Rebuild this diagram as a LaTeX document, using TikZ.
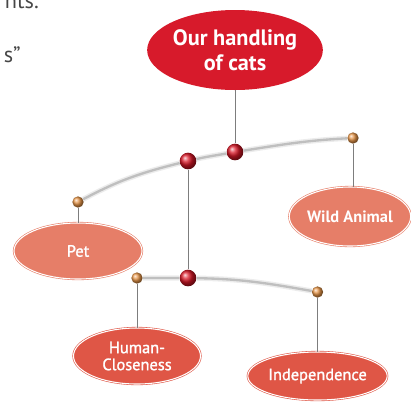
\documentclass[tikz,border=0pt]{standalone}
\usepackage{fontspec}
\setmainfont{PT Sans}
\newfontfamily\leaffont{PT Sans}[FakeBold=1.4]
\usetikzlibrary{shapes.geometric}
\definecolor{catred}{RGB}{215,26,43}
\definecolor{salmon}{RGB}{230,126,104}
\definecolor{brick}{RGB}{223,86,70}
\definecolor{tipcol}{RGB}{232,150,72}
\definecolor{stem}{RGB}{125,125,125}
\definecolor{textgray}{RGB}{70,70,70}

\begin{document}
\begin{tikzpicture}[x=0.3mm,y=0.3mm,
	topic/.style={ellipse,fill=catred,text=white,inner sep=0pt,align=center,font=\bfseries\fontsize{19}{21.5}\selectfont},
	leaf/.style={ellipse,draw=#1,fill=#1,double=white,double distance=0.9pt,line width=0.5pt,text=white,inner sep=0pt,align=center,font=\leaffont\fontsize{14}{14.5}\selectfont},
	hub/.style={circle,inner sep=0pt,minimum size=5mm,shading=ball,ball color=catred!90!red},
	tip/.style={circle,inner sep=0pt,minimum size=3.4mm,shading=ball,ball color=tipcol},
	stalk/.style={draw=stem,line width=0.6pt},
	branch/.style={draw=gray!50,line width=2pt,preaction={draw=gray!15,line width=4.5pt}}]
	\useasboundingbox (0,0) rectangle (411,-401);
	%Text from the page
	\node[anchor=base east,inner sep=0pt,text=textgray,font=\fontsize{19}{22}\selectfont] (frag1) at (39,-8) {nts.};
	\node[anchor=base east,inner sep=0pt,text=textgray,font=\fontsize{19}{22}\selectfont] (frag2) at (21,-62) {s”};
	%Top
	\node[topic,minimum width=49.8mm,minimum height=24mm] (handling) at (235,-50) {Our handling\\of cats};
	%Leaves
	\node[leaf=salmon,minimum width=38.4mm,minimum height=16.8mm] (pet) at (78,-251) {Pet};
	\node[leaf=salmon,minimum width=36.3mm,minimum height=17.7mm,font=\bfseries\fontsize{14}{14.5}\selectfont] (wild) at (350,-216.5) {Wild Animal};
	\node[leaf=brick,minimum width=38.1mm,minimum height=16.8mm] (human) at (137,-356) {Human-\\Closeness};
	\node[leaf=brick,minimum width=38.7mm,minimum height=14.4mm] (indep) at (317.5,-376) {Independence};
	%Dots
	\node[hub] (fork) at (188,-161) {};
	\node[hub] (root) at (235,-152) {};
	\node[hub] (split) at (188,-278) {};
	\node[tip] (petdot) at (78,-202) {};
	\node[tip] (wilddot) at (353,-138) {};
	\node[tip] (humdot) at (137,-278) {};
	\node[tip] (inddot) at (317.5,-292) {};
	%Branches
	\draw[branch] (petdot) to[out=28,in=194] (fork) to[out=13,in=190] (root) to[out=9,in=183] (wilddot);
	\draw[branch] (humdot) -- (split) to[out=-1,in=170] (inddot);
	%Stalks
	\draw[stalk] (handling) -- (root);
	\draw[stalk] (fork) -- (split);
	\draw[stalk] (petdot) -- (pet);
	\draw[stalk] (wilddot) -- (wilddot |- wild.north);
	\draw[stalk] (humdot) -- (human);
	\draw[stalk] (inddot) -- (indep);
\end{tikzpicture}
\end{document}
